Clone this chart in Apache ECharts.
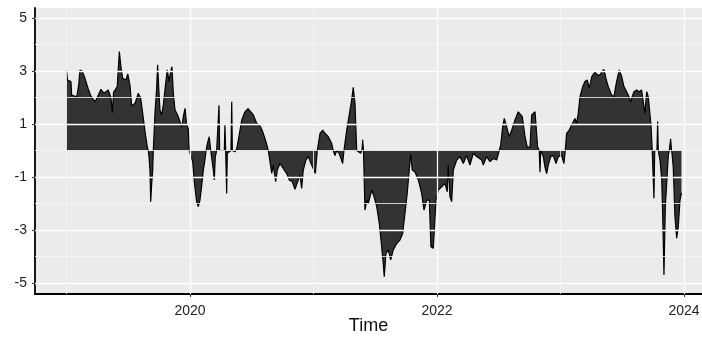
<!DOCTYPE html>
<html>
<head>
<meta charset="utf-8">
<script src="https://cdn.jsdelivr.net/npm/echarts@6/dist/echarts.min.js"></script>
<style>html,body{margin:0;padding:0;background:#fff}#c{width:702px;height:337px}</style>
</head>
<body>
<div id="c"></div>
<script>
const times = [
2019.000,2019.008,2019.036,2019.042,2019.083,2019.099,2019.109,2019.128,2019.150,2019.174,
2019.198,2019.231,2019.249,2019.279,2019.304,2019.338,2019.360,2019.371,2019.381,2019.393,
2019.411,2019.428,2019.441,2019.455,2019.482,2019.496,2019.514,2019.528,2019.555,2019.581,
2019.601,2019.617,2019.636,2019.654,2019.662,2019.668,2019.676,2019.682,2019.690,2019.698,
2019.703,2019.713,2019.717,2019.730,2019.738,2019.747,2019.757,2019.771,2019.784,2019.803,
2019.816,2019.830,2019.840,2019.854,2019.865,2019.879,2019.900,2019.919,2019.933,2019.946,
2019.960,2019.973,2019.986,2019.994,2020.006,2020.022,2020.035,2020.054,2020.067,2020.081,
2020.095,2020.108,2020.121,2020.130,2020.140,2020.156,2020.168,2020.178,2020.189,2020.197,
2020.205,2020.216,2020.229,2020.235,2020.240,2020.278,2020.283,2020.289,2020.293,2020.297,
2020.302,2020.332,2020.338,2020.343,2020.351,2020.364,2020.378,2020.391,2020.419,2020.445,
2020.470,2020.486,2020.513,2020.540,2020.572,2020.593,2020.615,2020.634,2020.648,2020.662,
2020.674,2020.694,2020.707,2020.729,2020.755,2020.783,2020.804,2020.828,2020.850,2020.872,
2020.891,2020.904,2020.917,2020.939,2020.958,2020.980,2020.998,2021.015,2021.031,2021.053,
2021.074,2021.093,2021.120,2021.147,2021.160,2021.174,2021.188,2021.206,2021.223,2021.236,
2021.247,2021.269,2021.296,2021.309,2021.322,2021.336,2021.350,2021.363,2021.382,2021.393,
2021.398,2021.405,2021.411,2021.417,2021.431,2021.444,2021.471,2021.490,2021.512,2021.533,
2021.552,2021.565,2021.573,2021.587,2021.606,2021.625,2021.646,2021.674,2021.700,2021.722,
2021.741,2021.759,2021.773,2021.787,2021.800,2021.822,2021.849,2021.876,2021.895,2021.917,
2021.938,2021.951,2021.970,2021.984,2021.992,2022.011,2022.038,2022.065,2022.083,2022.091,
2022.105,2022.119,2022.132,2022.160,2022.186,2022.213,2022.240,2022.267,2022.294,2022.321,
2022.362,2022.375,2022.402,2022.429,2022.456,2022.483,2022.496,2022.504,2022.516,2022.532,
2022.545,2022.564,2022.585,2022.605,2022.632,2022.658,2022.672,2022.691,2022.713,2022.731,
2022.753,2022.767,2022.794,2022.807,2022.815,2022.828,2022.834,2022.840,2022.861,2022.874,
2022.888,2022.901,2022.921,2022.942,2022.964,2022.982,2023.010,2023.028,2023.039,2023.050,
2023.071,2023.091,2023.117,2023.131,2023.144,2023.158,2023.180,2023.198,2023.217,2023.233,
2023.253,2023.279,2023.298,2023.320,2023.334,2023.352,2023.368,2023.387,2023.415,2023.433,
2023.449,2023.463,2023.476,2023.496,2023.514,2023.536,2023.555,2023.568,2023.581,2023.595,
2023.617,2023.638,2023.657,2023.670,2023.684,2023.698,2023.711,2023.725,2023.733,2023.743,
2023.751,2023.757,2023.763,2023.781,2023.787,2023.792,2023.806,2023.820,2023.828,2023.838,
2023.849,2023.860,2023.873,2023.881,2023.892,2023.899,2023.903,2023.913,2023.927,2023.941,
2023.954,2023.968,2023.980
];
const values = [
3.04,2.66,2.6,2.09,2.03,2.47,3.04,3.0,2.72,2.35,
2.05,1.84,2.0,2.31,2.16,2.28,2.0,1.43,2.2,2.28,
2.41,3.73,3.16,2.72,2.66,2.89,2.47,1.68,1.78,2.16,
1.97,1.4,0.71,0.14,0,-0.23,-0.74,-1.93,-1.24,-0.74,
0,0,1.46,2.35,3.23,2.35,1.53,1.34,1.72,2.53,
3.04,2.6,2.9,3.16,2.16,1.53,1.34,1.09,0.87,1.28,
1.59,0.96,0.84,0,-0.19,-0.42,-1.18,-1.93,-2.12,-1.87,
-1.31,-0.74,-0.36,0,0.25,0.52,0,-0.36,-0.74,-1.11,
-0.23,0,0,1.71,0,0,0.96,0,0,-1.62,
-0.1,0,1.84,0,-0.05,-0.05,0.06,0.38,1.15,1.46,
1.58,1.55,1.34,1.03,0.9,0.65,0.33,0,-0.42,-0.86,
-0.55,-1.18,-0.74,-0.49,-0.68,-0.87,-1.11,-1.18,-1.46,-1.18,
-0.93,-1.43,-0.74,-0.36,-0.23,-0.49,-0.68,-0.87,0,0.65,
0.77,0.65,0.52,0.27,0,-0.19,0,-0.1,-0.3,-0.49,
0,0.77,1.53,1.9,2.38,1.78,0,-0.05,-0.1,0,
0.4,0,0,-2.25,-1.87,-2.0,-1.49,-1.74,-2.12,-2.75,
-3.63,-4.26,-4.76,-3.88,-3.75,-4.13,-3.75,-3.51,-3.38,-3.13,
-2.37,-1.62,-0.87,-0.13,-0.74,-0.81,-1.11,-1.62,-2.25,-1.87,
-1.87,-3.63,-3.69,-3.63,-1.87,-1.49,-1.37,-1.24,-1.56,-0.55,
-1.74,-1.93,-0.74,-0.36,-0.23,-0.49,-0.19,-0.55,-0.11,-0.23,
-0.36,-0.55,-0.23,-0.42,-0.3,-0.36,-0.42,0,0.2,0.9,
1.21,0.9,0.52,0.77,1.15,1.46,1.53,1.28,0.52,0.13,
0.13,1.34,1.46,1.53,0.13,0,-0.82,0,-0.23,-0.62,
-0.87,-0.55,-0.23,-0.19,-0.49,-0.23,-0.19,-0.49,0,0.65,
0.77,0.96,1.21,1.03,1.4,2.03,2.41,2.6,2.66,2.35,
2.78,2.97,2.85,2.85,2.97,3.06,2.72,2.41,2.09,2.03,
2.47,2.78,3.04,2.78,2.41,2.22,2.03,1.84,2.03,2.22,
2.28,2.22,2.28,2.22,1.4,2.22,2.03,2.09,0.96,0,
-0.05,-1.8,0,0,1.09,0,-0.36,-1.11,-2.5,-4.7,
-2.12,-1.24,-0.19,0,0.44,0,-0.1,-0.62,-2.5,-3.31,
-2.87,-1.87,-1.6
];
const xTickLabels = [2020, 2022, 2024];
const xMinorGrid = [2019, 2021, 2023];
const yTickLabels = [-5, -3, -1, 1, 3, 5];
const yMinorGrid = [-4, -2, 0, 2, 4];

const seriesData = times.map((t, i) => [t, values[i]]);

const majorStyle = { color: '#ffffff', width: 1.3, type: 'solid' };
const minorStyle = { color: '#f6f6f6', width: 0.8, type: 'solid' };
const gridLines = [];
yTickLabels.forEach(v => gridLines.push({ yAxis: v, lineStyle: majorStyle }));
yMinorGrid.forEach(v => gridLines.push({ yAxis: v, lineStyle: minorStyle }));
xTickLabels.forEach(v => gridLines.push({ xAxis: v, lineStyle: majorStyle }));
xMinorGrid.forEach(v => gridLines.push({ xAxis: v, lineStyle: minorStyle }));

const chart = echarts.init(document.getElementById('c'), null, { renderer: 'canvas' });
const font = "'Liberation Sans', Arial, sans-serif";
chart.setOption({
  animation: false,
  backgroundColor: '#ffffff',
  grid: { left: 35, right: 0, top: 8, bottom: 43, show: true, backgroundColor: '#EBEBEB', borderWidth: 0,
          containLabel: false, outerBoundsMode: 'none' },
  xAxis: {
    type: 'value', min: 2018.745, max: 2024.146,
    name: 'Time', nameLocation: 'middle', nameGap: 23, nameMoveOverlap: false,
    nameTextStyle: { fontFamily: font, fontSize: 18, color: '#111', verticalAlign: 'top' },
    axisLine: { show: true, onZero: false, lineStyle: { color: '#000', width: 1.8 } },
    axisTick: { show: true, length: 3, customValues: xTickLabels, lineStyle: { color: '#333', width: 1 } },
    axisLabel: { customValues: xTickLabels, formatter: v => String(v), fontFamily: font, fontSize: 14, color: '#222', margin: 10 },
    splitLine: { show: false }
  },
  yAxis: {
    type: 'value', min: -5.415, max: 5.377,
    axisLine: { show: true, onZero: false, lineStyle: { color: '#000', width: 1.8 } },
    axisTick: { show: true, length: 3, customValues: yTickLabels, lineStyle: { color: '#333', width: 1 } },
    axisLabel: { customValues: yTickLabels, formatter: v => String(v), fontFamily: font, fontSize: 14, color: '#222', margin: 8 },
    splitLine: { show: false }
  },
  series: [
    {
      type: 'line', z: 1, data: [[2019, 0]], symbol: 'none', silent: true,
      lineStyle: { width: 0, opacity: 0 },
      markLine: { silent: true, symbol: ['none', 'none'], label: { show: false }, animation: false, data: gridLines }
    },
    {
      type: 'line', z: 3, data: seriesData, symbol: 'none', showSymbol: false,
      lineStyle: { color: '#000000', width: 1.2 },
      areaStyle: { color: '#333333', opacity: 1, origin: 0 }
    }
  ]
});
</script>
</body>
</html>
